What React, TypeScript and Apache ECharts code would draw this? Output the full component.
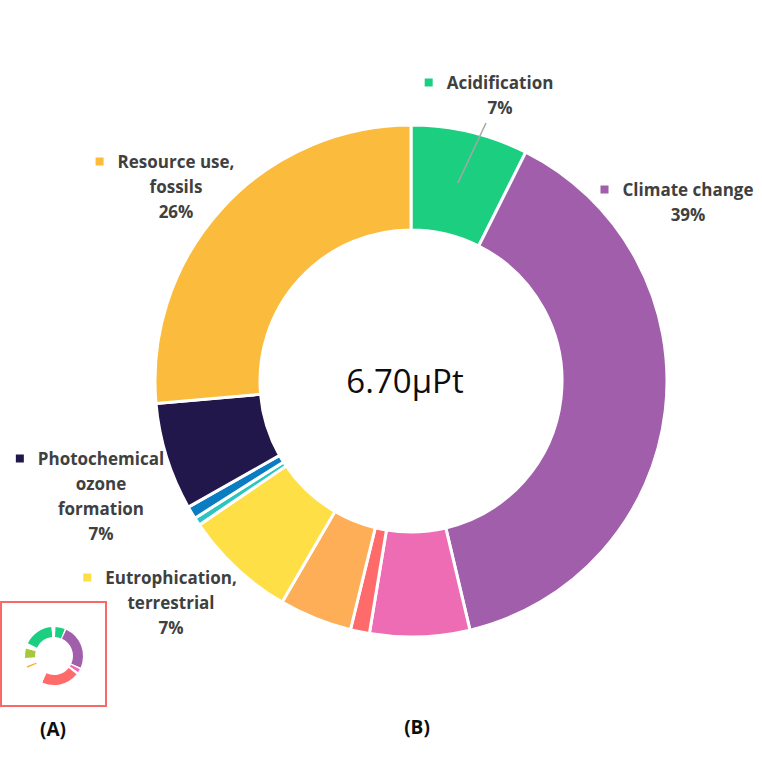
import React, { useEffect, useRef } from 'react';
import * as echarts from 'echarts';

// Main donut (B): impact categories and their share of the single score (%)
const categories = [
  'Acidification',
  'Climate change',
  'Ecotoxicity, freshwater',
  'Eutrophication, freshwater',
  'Eutrophication, marine',
  'Eutrophication, terrestrial',
  'Ionising radiation',
  'Land use',
  'Photochemical ozone formation',
  'Resource use, fossils',
];
const shares = [7.4, 38.9, 6.3, 1.2, 4.6, 7.1, 0.5, 0.8, 6.8, 26.4];
const colors = [
  '#1ccf80', '#a05eab', '#ed6cb4', '#ff6b6b', '#fdae57',
  '#ffdf46', '#2cc5c0', '#0a7cc1', '#21174a', '#fbbb3c',
];
// label text lines for the labelled categories
const labelText: Record<string, string[]> = {
  'Acidification': ['Acidification'],
  'Climate change': ['Climate change'],
  'Eutrophication, terrestrial': ['Eutrophication,', 'terrestrial'],
  'Photochemical ozone formation': ['Photochemical', 'ozone', 'formation'],
  'Resource use, fossils': ['Resource use,', 'fossils'],
};
const totalText = '6.70μPt';

// Mini donut (A): segment sizes in degrees, with blank gaps
const miniNames = ['g0', 'a', 'g1', 'b', 'g2', 'c', 'g3', 'd', 'g4', 'e', 'g5', 'f', 'g6', 'h', 'g7'];
const miniValues = [3, 19, 3, 89, 3, 7, 5, 75, 42, 4, 16, 19, 11, 59, 5];
const miniColors = [
  '#ffffff', '#1ccf80', '#ffffff', '#a05eab', '#ffffff', '#ed6cb4', '#ffffff', '#ff6b6b',
  '#ffffff', '#fbb03b', '#ffffff', '#a8c83c', '#ffffff', '#1ccf80', '#ffffff',
];

// layout: label anchors (block centre x, block top y)
const labelAnchors: Record<string, [number, number]> = {
  'Acidification': [500, 70],
  'Climate change': [688, 177],
  'Eutrophication, terrestrial': [171, 565],
  'Photochemical ozone formation': [101, 446],
  'Resource use, fossils': [176, 149],
};

const FONT = '"Open Sans", "Noto Sans", sans-serif';

export default function App() {
  const ref = useRef<HTMLDivElement>(null);
  useEffect(() => {
    document.body.style.margin = '0';
    const chart = echarts.init(ref.current!, null, { renderer: 'svg' });
    const total = shares.reduce((a, b) => a + b, 0);
    const cx = 411, cy = 381, r0 = 151, r1 = 256;

    const data = categories.map((name, i) => {
      const lines = labelText[name];
      const item: any = { name, value: shares[i], itemStyle: { color: colors[i] } };
      if (lines) {
        const pct = Math.round((shares[i] / total) * 100) + '%';
        const parts = [`{sq|}{gap|}{t|${lines[0]}}{pad|}`];
        for (let k = 1; k < lines.length; k++) parts.push(`{t|${lines[k]}}`);
        parts.push(`{t|${pct}}`);
        item.label = {
          show: true,
          formatter: parts.join('\n'),
          rich: {
            sq: { width: 8, height: 8, backgroundColor: colors[i] },
            gap: { width: 14 },
            pad: { width: 22 },
            t: {
              fontFamily: FONT, fontWeight: 'bold', fontSize: 17,
              color: '#404040', lineHeight: 25,
            },
          },
        };
      } else {
        item.label = { show: false };
      }
      return item;
    });

    // acidification leader line from the middle of its segment
    const midAngle = ((shares[0] / 2) / total) * 2 * Math.PI;
    const rm = (r0 + r1) / 2;
    const lx = cx + rm * Math.sin(midAngle);
    const ly = cy - rm * Math.cos(midAngle);

    const option: any = {
      animation: false,
      backgroundColor: '#ffffff',
      series: [
        {
          type: 'pie',
          center: [cx, cy],
          radius: [r0, r1],
          startAngle: 90,
          clockwise: true,
          avoidLabelOverlap: false,
          silent: true,
          itemStyle: { borderColor: '#ffffff', borderWidth: 3 },
          label: { show: true, position: 'outside' },
          labelLine: { show: false },
          emphasis: { disabled: true },
          labelLayout: (p: any) => {
            const a = labelAnchors[categories[p.dataIndex]];
            if (!a) return {};
            return { x: a[0], y: a[1], align: 'center', verticalAlign: 'top' };
          },
          data,
        },
        {
          type: 'pie',
          center: [54, 656],
          radius: [19, 29],
          startAngle: 90,
          clockwise: true,
          silent: true,
          label: { show: false },
          labelLine: { show: false },
          emphasis: { disabled: true },
          itemStyle: { borderWidth: 0 },
          data: miniNames.map((n, i) => ({
            name: n, value: miniValues[i], itemStyle: { color: miniColors[i] },
          })),
        },
      ],
      graphic: [
        {
          type: 'line',
          shape: { x1: lx, y1: ly, x2: 486, y2: 123 },
          style: { stroke: '#a6a6a6', lineWidth: 1.5 },
          z: 10,
        },
        {
          type: 'text',
          x: 405, y: 380,
          style: {
            text: totalText, fontFamily: FONT, fontSize: 33, fill: '#0d0d0d',
            align: 'center', verticalAlign: 'middle',
          },
        },
        {
          type: 'rect',
          shape: { x: 1, y: 602, width: 105, height: 104 },
          style: { fill: 'none', stroke: '#f86a6a', lineWidth: 2 },
        },
        {
          type: 'text',
          x: 53, y: 729,
          style: {
            text: '(A)', fontFamily: FONT, fontWeight: 'bold', fontSize: 19, fill: '#0d0d0d',
            align: 'center', verticalAlign: 'middle',
          },
        },
        {
          type: 'text',
          x: 417, y: 727,
          style: {
            text: '(B)', fontFamily: FONT, fontWeight: 'bold', fontSize: 19, fill: '#0d0d0d',
            align: 'center', verticalAlign: 'middle',
          },
        },
      ],
    };
    chart.setOption(option);
    return () => chart.dispose();
  }, []);
  return <div ref={ref} style={{ width: 762, height: 759 }} />;
}
